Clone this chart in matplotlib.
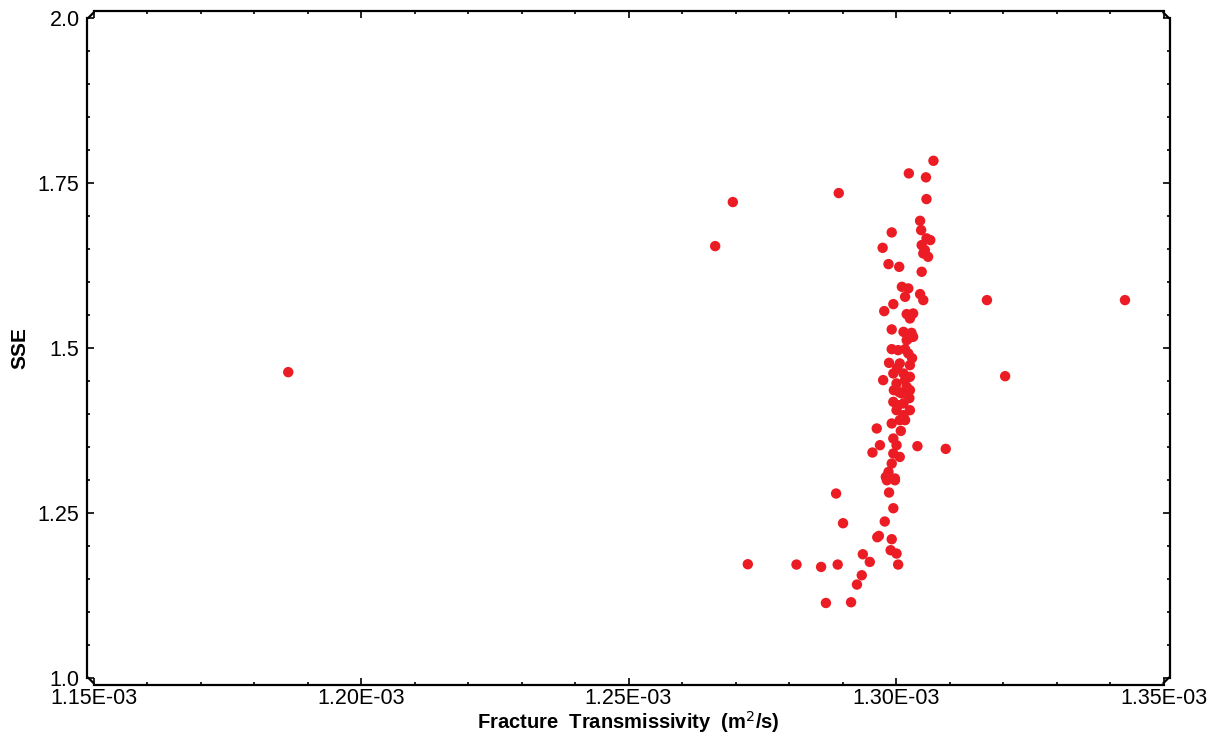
import matplotlib
matplotlib.use("Agg")
import matplotlib.pyplot as plt
import numpy as np
from matplotlib.ticker import MultipleLocator, FixedLocator, FuncFormatter

# Fracture transmissivity in units of 1e-3 m^2/s, and SSE
trans_milli = [
    1.1864, 1.2662, 1.2695, 1.2893, 1.2723, 1.2814, 1.2860, 1.2891, 1.2888, 1.2901,
    1.2869, 1.2916, 1.2938, 1.2951, 1.2936, 1.2927, 1.2965, 1.2968, 1.2979, 1.2987,
    1.2995, 1.2992, 1.2990, 1.3001, 1.3004, 1.2983, 1.2998,
    1.3070, 1.3024, 1.3056, 1.3057, 1.3045, 1.2992, 1.3047, 1.3057, 1.3064, 1.3048,
    1.2975, 1.3054, 1.3060, 1.3051, 1.2986, 1.3006, 1.3048, 1.3011, 1.3023, 1.3017,
    1.3045, 1.3051, 1.2995, 1.2978, 1.3020, 1.3032, 1.3026, 1.2992, 1.3014, 1.3029,
    1.3032, 1.3023, 1.2992, 1.3017,
    1.3020, 1.3023, 1.2987, 1.3007, 1.3026, 1.2976, 1.2995, 1.3014, 1.3026, 1.3001,
    1.3020, 1.3026, 1.3011, 1.2995, 1.3014, 1.3001, 1.3014, 1.2992, 1.2964, 1.3009,
    1.2995, 1.2970, 1.2956, 1.3001, 1.2995, 1.3007, 1.3040, 1.3093, 1.2992, 1.2986,
    1.2981, 1.2998,
    1.3170, 1.3428, 1.3204,
    1.3004, 1.3030, 1.3002, 1.3017, 1.3006, 1.3025, 1.2996, 1.3004, 1.3026, 1.3017,
    1.3007,
]
sse = [
    1.4632, 1.6541, 1.7208, 1.7344, 1.1723, 1.1718, 1.1682, 1.1718, 1.2794, 1.2344,
    1.1136, 1.1147, 1.1874, 1.1758, 1.1556, 1.1415, 1.2132, 1.2152, 1.2370, 1.2809,
    1.2571, 1.2102, 1.1935, 1.1885, 1.1718, 1.2995, 1.2995,
    1.7833, 1.7642, 1.7582, 1.7253, 1.6924, 1.6748, 1.6783, 1.6658, 1.6632, 1.6556,
    1.6515, 1.6480, 1.6379, 1.6430, 1.6268, 1.6227, 1.6152, 1.5924, 1.5900, 1.5773,
    1.5814, 1.5723, 1.5662, 1.5556, 1.5511, 1.5521, 1.5445, 1.5279, 1.5242, 1.5227,
    1.5167, 1.5142, 1.4980, 1.4980,
    1.5117, 1.4915, 1.4773, 1.4764, 1.4738, 1.4511, 1.4612, 1.4612, 1.4561, 1.4461,
    1.4409, 1.4359, 1.4309, 1.4182, 1.4158, 1.4056, 1.3980, 1.3855, 1.3779, 1.3742,
    1.3627, 1.3526, 1.3415, 1.3526, 1.3400, 1.3348, 1.3511, 1.3470, 1.3248, 1.3121,
    1.3045, 1.3021,
    1.5723, 1.5723, 1.4571,
    1.4965, 1.4844, 1.4692, 1.4511, 1.4329, 1.4238, 1.4359, 1.4132, 1.4056, 1.3905,
    1.3905,
]
x_ticks = [1.15e-3, 1.20e-3, 1.25e-3, 1.30e-3, 1.35e-3]
y_ticks = [1.0, 1.25, 1.5, 1.75, 2.0]
y_tick_labels = ["1.0", "1.25", "1.5", "1.75", "2.0"]
x_label = "Fracture  Transmissivity  (m$^{2}$/s)"
y_label = "SSE"

plt.rcParams["font.family"] = ["Liberation Sans", "DejaVu Sans"]

x = np.array(trans_milli) * 1e-3
y = np.array(sse)

fig = plt.figure(figsize=(12.2, 7.38), dpi=100)
ax = fig.add_axes([93.5 / 1220, 60 / 738, 1070 / 1220, 660.3 / 738])

ax.scatter(x, y, s=56, color="#EC1C24", edgecolors="none", zorder=3)

ax.set_xlim(1.15e-3, 1.35e-3)
ax.set_ylim(1.0, 2.0)
ax.xaxis.set_major_locator(FixedLocator(x_ticks))
ax.xaxis.set_minor_locator(MultipleLocator(0.01e-3))
ax.xaxis.set_major_formatter(FuncFormatter(lambda v, p: "%.2E" % v))
ax.yaxis.set_major_locator(FixedLocator(y_ticks))
ax.set_yticklabels(y_tick_labels)
ax.yaxis.set_minor_locator(MultipleLocator(0.05))

for s in ax.spines.values():
    s.set_position(("outward", 5))
    s.set_linewidth(1.6)
    s.set_color("black")

ax.tick_params(which="both", direction="in", top=True, right=True,
               labelsize=15.5, width=1.2, color="black")
ax.tick_params(which="major", length=5)
ax.tick_params(which="minor", length=2.5)
ax.tick_params(axis="x", which="major", pad=2)
ax.tick_params(axis="y", which="major", pad=5)

# corner joins between offset spines
dx = 5 / 1070
dy = 5 / 660.3
corners = [
    ([-dx, 0], [1, 1 + dy]),
    ([1, 1 + dx], [1 + dy, 1]),
    ([1 + dx, 1], [0, -dy]),
    ([0, -dx], [-dy, 0]),
]
for cx, cy in corners:
    ax.plot(cx, cy, transform=ax.transAxes, color="black", lw=1.6,
            clip_on=False, solid_capstyle="projecting")

ax.set_xlabel(x_label, fontsize=14.5, fontweight="bold")
ax.xaxis.set_label_coords(0.5, (678 - 722) / 660.3)
ax.xaxis.label.set_va("center")
ax.set_ylabel(y_label, fontsize=15, fontweight="bold")
ax.yaxis.set_label_coords((20 - 93.5) / 1070, 0.5)
ax.yaxis.label.set_va("center")

fig.savefig("out.png", dpi=100, facecolor="white")
